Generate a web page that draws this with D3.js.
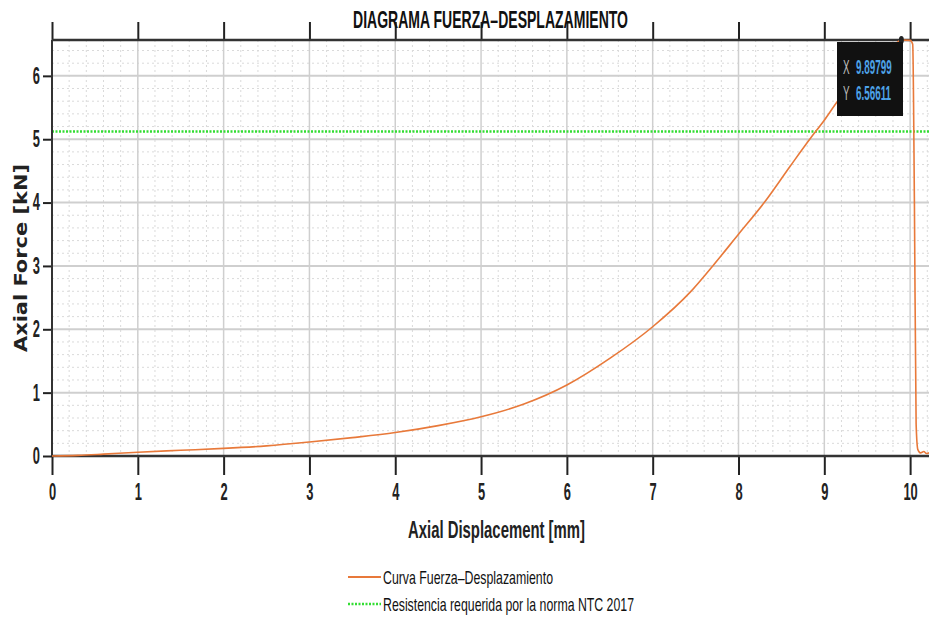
<!DOCTYPE html>
<html>
<head>
<meta charset="utf-8">
<script src="https://cdn.jsdelivr.net/npm/d3@7"></script>
<style>
body { margin: 0; background: #fff; }
svg { display: block; }
</style>
</head>
<body>
<div id="chart"></div>
<script>
'use strict';

// curve
var displacement = [0, 0.3, 0.6, 1.0, 1.5, 2.0, 2.5, 3.0, 3.5, 4.0, 4.5, 5.0, 5.5, 6.0,
    6.5, 7.0, 7.44, 7.7, 8.0, 8.3, 8.6, 8.83, 9.0, 9.15, 9.4, 9.6, 9.8, 9.898, 10.0, 10.03,
    10.05, 10.07, 10.09, 10.12, 10.16, 10.19, 10.22];
var force = [0, 0.01, 0.03, 0.06, 0.09, 0.12, 0.16, 0.22, 0.29, 0.37, 0.48, 0.62, 0.82, 1.12,
    1.54, 2.04, 2.59, 3.00, 3.50, 4.00, 4.57, 5.00, 5.30, 5.59, 6.00, 6.27, 6.47, 6.566, 6.56, 6.50,
    4.00, 0.50, 0.10, 0.05, 0.07, 0.04, 0.05];
var requiredForce = 5.12;
var peak = {x: 9.89799, y: 6.56611};
var xTicks = [0, 1, 2, 3, 4, 5, 6, 7, 8, 9, 10];
var yTicks = [0, 1, 2, 3, 4, 5, 6];
var seriesNames = ['Curva Fuerza\u2013Desplazamiento', 'Resistencia requerida por la norma NTC 2017'];

var width = 929, height = 619;
var margin = {top: 40, right: 0, bottom: 163, left: 52};
var font = 'Liberation Sans, Arial, sans-serif';
var squeeze = 0.56;

var svg = d3.select('#chart').append('svg')
    .attr('width', width)
    .attr('height', height);

var x = d3.scaleLinear().domain([0, 10.22]).range([margin.left, width - margin.right]);
var y = d3.scaleLinear().domain([0, 6.566]).range([height - margin.bottom, margin.top]);

var minorX = d3.range(0, 10.21, 0.2).filter(function(d) { return Math.abs(d - Math.round(d)) > 0.01; });
var minorY = d3.range(0, 6.56, 0.2).filter(function(d) { return Math.abs(d - Math.round(d)) > 0.01; });

var grid = svg.append('g');
grid.selectAll('.minx').data(minorX).enter().append('line')
    .attr('x1', function(d) { return x(d); }).attr('x2', function(d) { return x(d); })
    .attr('y1', y(6.566)).attr('y2', y(0))
    .attr('stroke', '#dadada').attr('stroke-width', 1).attr('stroke-dasharray', '2,3');
grid.selectAll('.miny').data(minorY).enter().append('line')
    .attr('y1', function(d) { return y(d); }).attr('y2', function(d) { return y(d); })
    .attr('x1', x(0)).attr('x2', width)
    .attr('stroke', '#dadada').attr('stroke-width', 1).attr('stroke-dasharray', '2,3');
grid.selectAll('.majx').data(xTicks).enter().append('line')
    .attr('x1', function(d) { return x(d); }).attr('x2', function(d) { return x(d); })
    .attr('y1', y(6.566)).attr('y2', y(0))
    .attr('stroke', '#cfcfcf').attr('stroke-width', 1.5);
grid.selectAll('.majy').data(yTicks).enter().append('line')
    .attr('y1', function(d) { return y(d); }).attr('y2', function(d) { return y(d); })
    .attr('x1', x(0)).attr('x2', width)
    .attr('stroke', '#cfcfcf').attr('stroke-width', 2);

// required strength
svg.append('line')
    .attr('x1', x(0)).attr('x2', width)
    .attr('y1', y(requiredForce)).attr('y2', y(requiredForce))
    .attr('stroke', '#33dd33').attr('stroke-width', 2.5).attr('stroke-dasharray', '2,1.5');

// axes
var xAxis = d3.axisBottom(x).tickValues(xTicks).tickSize(19).tickPadding(9).tickFormat(d3.format('d'));
var xTop = d3.axisTop(x).tickValues(xTicks).tickSize(18).tickFormat('');
var yAxis = d3.axisLeft(y).tickValues(yTicks).tickSize(9).tickFormat(d3.format('d'));

var gx = svg.append('g').attr('transform', 'translate(0,' + y(0) + ')').call(xAxis);
var gt = svg.append('g').attr('transform', 'translate(0,' + y(6.566) + ')').call(xTop);
var gy = svg.append('g').attr('transform', 'translate(' + x(0) + ',0)').call(yAxis);

[gx, gt, gy].forEach(function(g) {
    g.select('.domain').remove();
    g.selectAll('.tick line').attr('stroke', '#222').attr('stroke-width', 2);
    g.selectAll('text').attr('font-family', font).attr('font-size', 23)
        .attr('font-weight', 'bold').attr('fill', '#222')
        .attr('transform', 'scale(' + squeeze + ',1)');
});
gy.selectAll('.tick text').attr('x', -12 / squeeze);

svg.append('line').attr('x1', x(0)).attr('x2', width)
    .attr('y1', y(0)).attr('y2', y(0)).attr('stroke', '#333').attr('stroke-width', 2.5);
svg.append('line').attr('x1', x(0)).attr('x2', width)
    .attr('y1', y(6.566)).attr('y2', y(6.566)).attr('stroke', '#333').attr('stroke-width', 2.5);
svg.append('line').attr('x1', x(0)).attr('x2', x(0))
    .attr('y1', y(6.566)).attr('y2', y(0)).attr('stroke', '#333').attr('stroke-width', 2);

// curve
var line = d3.line()
    .x(function(d) { return x(d[0]); })
    .y(function(d) { return y(d[1]); })
    .curve(d3.curveMonotoneX);
svg.append('path')
    .datum(d3.zip(displacement, force))
    .attr('d', line)
    .attr('fill', 'none')
    .attr('stroke', '#e8793a')
    .attr('stroke-width', 1.6);

// data tip
svg.append('ellipse').attr('cx', x(peak.x)).attr('cy', y(peak.y))
    .attr('rx', 2.5).attr('ry', 4).attr('fill', '#222');
var tipScale = 0.47;
var tip = svg.append('g').attr('font-family', font);
tip.append('rect').attr('x', 837).attr('y', 42).attr('width', 66).attr('height', 74).attr('fill', '#111');
var tipText = tip.append('g').attr('transform', 'scale(' + tipScale + ',1)');
[['X', peak.x.toFixed(5)], ['Y', peak.y.toFixed(5)]].forEach(function(r, i) {
    tipText.append('text').attr('x', 843 / tipScale).attr('y', 74 + i * 26).attr('font-size', 21)
        .attr('fill', '#bbb').text(r[0]);
    tipText.append('text').attr('x', 856 / tipScale).attr('y', 74 + i * 26).attr('font-size', 21)
        .attr('font-weight', 'bold').attr('fill', '#4ea3e8').text(r[1]);
});

// titles
svg.append('text')
    .attr('x', 353).attr('y', 28)
    .attr('font-family', font).attr('font-size', 24).attr('font-weight', 'bold').attr('fill', '#111')
    .attr('textLength', 275).attr('lengthAdjust', 'spacingAndGlyphs')
    .text('DIAGRAMA FUERZA\u2013DESPLAZAMIENTO');
svg.append('text')
    .attr('x', 408).attr('y', 538)
    .attr('font-family', font).attr('font-size', 24).attr('font-weight', 'bold').attr('fill', '#222')
    .attr('textLength', 177).attr('lengthAdjust', 'spacingAndGlyphs')
    .text('Axial Displacement [mm]');
svg.append('text')
    .attr('transform', 'translate(27,352) rotate(-90)')
    .attr('font-family', 'DejaVu Sans, sans-serif')
    .attr('font-size', 17).attr('font-weight', 'bold').attr('fill', '#222')
    .attr('textLength', 188).attr('lengthAdjust', 'spacingAndGlyphs')
    .text('Axial Force [kN]');

// legend
var legend = svg.append('g').attr('font-family', font);
legend.append('line').attr('x1', 348).attr('x2', 381).attr('y1', 577).attr('y2', 577)
    .attr('stroke', '#e8793a').attr('stroke-width', 2);
legend.append('line').attr('x1', 348).attr('x2', 381).attr('y1', 604).attr('y2', 604)
    .attr('stroke', '#33dd33').attr('stroke-width', 2.5).attr('stroke-dasharray', '2,1.5');
seriesNames.forEach(function(name, i) {
    legend.append('text').attr('x', 383).attr('y', 584 + i * 27)
        .attr('font-size', 19).attr('fill', '#111')
        .attr('textLength', i === 0 ? 170 : 251).attr('lengthAdjust', 'spacingAndGlyphs')
        .text(name);
});
</script>
</body>
</html>
